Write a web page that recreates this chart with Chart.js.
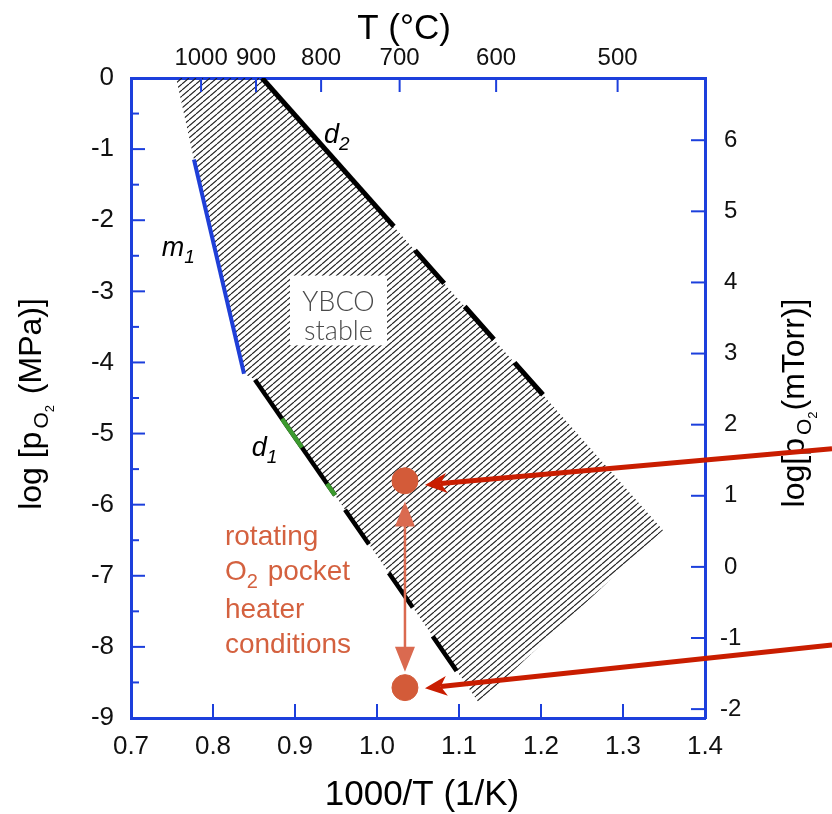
<!DOCTYPE html>
<html>
<head>
<meta charset="utf-8">
<script src="https://cdn.jsdelivr.net/npm/chart.js@4.4.1/dist/chart.umd.min.js"></script>
<style>
  html, body { margin: 0; padding: 0; background: #fff; }
  #wrap { width: 832px; height: 814px; }
</style>
</head>
<body>
<div id="wrap"><canvas id="phase" width="832" height="814"></canvas></div>
<script>
// ---- axis ticks ----
const X_TICKS     = [0.7, 0.8, 0.9, 1.0, 1.1, 1.2, 1.3, 1.4];
const Y_TICKS     = [0, -1, -2, -3, -4, -5, -6, -7, -8, -9];
const Y_MINOR     = [-0.5, -1.5, -2.5, -3.5, -4.5, -5.5, -6.5, -7.5, -8.5];
const T_TICKS     = [1000, 900, 800, 700, 600, 500];          // deg C on top axis
const MTORR_TICKS = [6, 5, 4, 3, 2, 1, 0, -1, -2];
const MPA_TO_MTORR = 6.875;                                   // log10(1 MPa in mTorr)

// ---- YBCO stability field (1000/T, log pO2 in MPa) ----
const FIELD_X = [0.755, 0.8598, 1.3488, 1.1244, 0.8512, 0.8378, 0.7768];
const FIELD_Y = [0, 0, -6.36, -8.79, -4.243, -4.158, -1.147];

// m1 boundary
const M1_X = [0.7768, 0.8378];
const M1_Y = [-1.147, -4.158];

// d2 boundary
const D2_SOLID_X = [0.8598, 1.0205];
const D2_SOLID_Y = [0, -2.087];
const D2_DASH_X  = [1.0463, 1.2024];
const D2_DASH_Y  = [-2.424, -4.454];

// d1 boundary (green pieces sit on top of the solid stretch)
const D1_SOLID_X  = [0.8512, 0.9488];
const D1_SOLID_Y  = [-4.243, -5.868];
const D1_GREEN_A_X = [0.8841, 0.9085];
const D1_GREEN_A_Y = [-4.791, -5.197];
const D1_GREEN_B_X = [0.939, 0.9488];
const D1_GREEN_B_Y = [-5.705, -5.868];
const D1_DASH_X   = [0.961, 1.0988];
const D1_DASH_Y   = [-6.071, -8.366];

// pocket heater operating points
const POCKET_X = [1.0341, 1.0341];
const POCKET_Y = [-5.664, -8.573];

// arrows: range arrow between the two points, callouts coming in from the right
const RANGE_X = [1.0341, 1.0341];
const RANGE_Y = [-5.955, -8.348];
const CALLOUT_FROM_X = [1.5549, 1.5549];
const CALLOUT_FROM_Y = [-5.214, -7.972];
const CALLOUT_TO_X   = [1.0585, 1.0585];
const CALLOUT_TO_Y   = [-5.723, -8.581];

const AXIS_BLUE = '#1c3fdc';
const NOTE_RED  = '#d4613f';
const DOT_RED   = '#d35b39';
const SANS = '"Liberation Sans", Arial, Helvetica, sans-serif';

const pts = (xs, ys) => xs.map((x, i) => ({ x, y: ys[i] }));

const canvas = document.getElementById('phase');

// diagonal hatch for the stability field
const hatch = (() => {
  const w = 7, h = 6;
  const tile = document.createElement('canvas');
  tile.width = w; tile.height = h;
  const g = tile.getContext('2d');
  g.strokeStyle = '#1e1e1e';
  g.lineWidth = 1.15;
  for (let k = -1; k <= 1; k++) {
    g.beginPath();
    g.moveTo(k * w, h);
    g.lineTo(k * w + w, 0);
    g.stroke();
  }
  return canvas.getContext('2d').createPattern(tile, 'repeat');
})();

// Chart.js paints higher `order` first, so lower numbers end up on top
function lineSet(xs, ys, color, width, dash, order) {
  return {
    data: pts(xs, ys),
    showLine: true,
    borderColor: color,
    borderWidth: width,
    borderDash: dash || [],
    borderCapStyle: 'butt',
    pointRadius: 0,
    fill: false,
    order: order,
  };
}

// ---- text helpers ----
function fontOf(p) {
  return `${p.italic ? 'italic ' : ''}${p.size}px ${p.family || SANS}`;
}
function drawRich(ctx, parts, x, y, align) {
  let w = 0;
  parts.forEach(p => { ctx.font = fontOf(p); w += ctx.measureText(p.t).width + (p.gap || 0); });
  let cx = align === 'center' ? x - w / 2 : x;
  parts.forEach(p => {
    ctx.font = fontOf(p);
    ctx.fillText(p.t, cx, y + (p.dy || 0));
    cx += ctx.measureText(p.t).width + (p.gap || 0);
  });
}

function arrowHead(ctx, x0, y0, x1, y1, len, half, notch) {
  const a = Math.atan2(y1 - y0, x1 - x0);
  ctx.save();
  ctx.translate(x1, y1);
  ctx.rotate(a);
  ctx.beginPath();
  ctx.moveTo(0, 0);
  ctx.lineTo(-len, -half);
  ctx.lineTo(-len * notch, 0);
  ctx.lineTo(-len, half);
  ctx.closePath();
  ctx.fill();
  ctx.restore();
}

const notes = {
  id: 'notes',
  afterDraw(chart) {
    const { ctx, chartArea: ca } = chart;
    const sx = chart.scales.x, sy = chart.scales.y, sy2 = chart.scales.y2;
    const px = v => sx.getPixelForValue(v);
    const py = v => sy.getPixelForValue(v);
    ctx.save();

    // inward tick marks
    ctx.strokeStyle = AXIS_BLUE;
    ctx.lineWidth = 2;
    const seg = (a, b, c, d) => { ctx.beginPath(); ctx.moveTo(a, b); ctx.lineTo(c, d); ctx.stroke(); };
    X_TICKS.slice(1, -1).forEach(v => seg(px(v), ca.bottom, px(v), ca.bottom - 14));
    T_TICKS.forEach(t => { const p = px(1000 / (t + 273.15)); seg(p, ca.top, p, ca.top + 14); });
    Y_TICKS.forEach(v => seg(ca.left, py(v), ca.left + 14, py(v)));
    Y_MINOR.forEach(v => seg(ca.left, py(v), ca.left + 8, py(v)));
    MTORR_TICKS.forEach(v => { const p = sy2.getPixelForValue(v); seg(ca.right, p, ca.right - 14, p); });

    // "YBCO stable" label on a white patch
    ctx.fillStyle = '#fff';
    ctx.fillRect(px(0.8939), py(-2.779), px(1.0122) - px(0.8939), py(-3.76) - py(-2.779));
    ctx.fillStyle = '#4a4a4a';
    ctx.textBaseline = 'alphabetic';
    ctx.textAlign = 'center';
    ctx.font = '300 27px Lato, "Open Sans", sans-serif';
    ctx.fillText('YBCO', px(0.953), py(-3.272));
    ctx.fillText('stable', px(0.953), py(-3.68));
    ctx.textAlign = 'left';

    // boundary names
    ctx.fillStyle = '#000';
    drawRich(ctx, [{ t: 'd', size: 27, italic: true }, { t: '2', size: 19, italic: true, dy: 7 }], px(0.9354), py(-0.912));
    drawRich(ctx, [{ t: 'm', size: 27, italic: true }, { t: '1', size: 19, italic: true, dy: 7 }], px(0.7374), py(-2.508));
    drawRich(ctx, [{ t: 'd', size: 27, italic: true }, { t: '1', size: 19, italic: true, dy: 7 }], px(0.8472), py(-5.322));

    // heater note
    ctx.fillStyle = NOTE_RED;
    const nx = px(0.8146);
    ctx.font = fontOf({ size: 28 });
    ctx.fillText('rotating', nx, py(-6.565));
    drawRich(ctx, [{ t: 'O', size: 28 }, { t: '2', size: 20, dy: 8, gap: 2 }, { t: ' pocket', size: 28 }], nx, py(-7.057));
    ctx.font = fontOf({ size: 28 });
    ctx.fillText('heater', nx, py(-7.592));
    ctx.fillText('conditions', nx, py(-8.085));

    // axis titles
    ctx.fillStyle = '#000';
    ctx.font = fontOf({ size: 35 });
    ctx.textAlign = 'center';
    ctx.fillText('T (\u00B0C)', 404, 39);
    ctx.fillText('1000/T (1/K)', 422, 805);
    ctx.textAlign = 'left';

    ctx.save();
    ctx.translate(41, 404);
    ctx.rotate(-Math.PI / 2);
    drawRich(ctx, [
      { t: 'log [p', size: 32, gap: 3 },
      { t: 'O', size: 21, dy: 7 },
      { t: '2', size: 13, dy: 13, gap: 2 },
      { t: ' (MPa)]', size: 32 },
    ], 0, 0, 'center');
    ctx.restore();

    ctx.save();
    ctx.translate(804, 403);
    ctx.rotate(-Math.PI / 2);
    drawRich(ctx, [
      { t: 'log[p', size: 32, gap: 3 },
      { t: 'O', size: 21, dy: 7 },
      { t: '2', size: 13, dy: 13, gap: 1 },
      { t: '(mTorr)]', size: 32 },
    ], 0, 0, 'center');
    ctx.restore();

    // range arrow between the two operating points
    ctx.strokeStyle = '#da6a50';
    ctx.fillStyle = '#da6a50';
    ctx.lineWidth = 2.5;
    const ax = px(RANGE_X[0]), ay0 = py(RANGE_Y[0]), ay1 = py(RANGE_Y[1]);
    seg(ax, ay0 + 20, ax, ay1 - 20);
    arrowHead(ctx, ax, ay1, ax, ay0, 25, 10, 1);
    arrowHead(ctx, ax, ay0, ax, ay1, 25, 10, 1);

    // callout arrows
    ctx.strokeStyle = '#c91d00';
    ctx.fillStyle = '#c91d00';
    ctx.lineWidth = 5;
    CALLOUT_FROM_X.forEach((fx, i) => {
      const x0 = px(fx), y0 = py(CALLOUT_FROM_Y[i]);
      const x1 = px(CALLOUT_TO_X[i]), y1 = py(CALLOUT_TO_Y[i]);
      const a = Math.atan2(y1 - y0, x1 - x0);
      seg(x0, y0, x1 - Math.cos(a) * 16, y1 - Math.sin(a) * 16);
      arrowHead(ctx, x0, y0, x1, y1, 22, 10, 0.72);
    });

    ctx.restore();
  }
};

function axisBase(extra) {
  return Object.assign({
    type: 'linear',
    grid: { display: true, drawOnChartArea: false, drawTicks: false },
    border: { display: true, color: AXIS_BLUE, width: 3 },
  }, extra);
}
const tickFont = { family: SANS, size: 26 };

new Chart(canvas, {
  type: 'scatter',
  data: {
    datasets: [
      {
        data: pts(FIELD_X, FIELD_Y),
        showLine: true,
        borderColor: 'rgba(0,0,0,0)',
        borderWidth: 0,
        backgroundColor: hatch,
        pointRadius: 0,
        fill: 'shape',
        order: 10,
      },
      lineSet(M1_X, M1_Y, '#1f3fd8', 4, null, 5),
      lineSet(D2_SOLID_X, D2_SOLID_Y, '#000', 5, null, 5),
      lineSet(D2_DASH_X, D2_DASH_Y, '#000', 5, [44, 31], 5),
      lineSet(D1_SOLID_X, D1_SOLID_Y, '#000', 4.5, null, 5),
      lineSet(D1_GREEN_A_X, D1_GREEN_A_Y, '#3c9a2e', 4.5, null, 3),
      lineSet(D1_GREEN_B_X, D1_GREEN_B_Y, '#3c9a2e', 4.5, null, 3),
      lineSet(D1_DASH_X, D1_DASH_Y, '#000', 4.5, [42, 35], 5),
      {
        data: pts(POCKET_X, POCKET_Y),
        showLine: false,
        backgroundColor: DOT_RED,
        borderColor: DOT_RED,
        pointRadius: 13,
        pointBackgroundColor: DOT_RED,
        pointBorderColor: DOT_RED,
        pointBorderWidth: 1,
        order: 1,
      },
    ],
  },
  options: {
    responsive: false,
    animation: false,
    devicePixelRatio: 1,
    layout: { padding: 0 },
    events: [],
    plugins: { legend: { display: false }, tooltip: { enabled: false } },
    scales: {
      x: axisBase({
        position: 'bottom', min: 0.7, max: 1.4,
        afterBuildTicks: s => { s.ticks = X_TICKS.map(v => ({ value: v })); },
        afterFit: s => { s.height = 96; },
        ticks: { font: tickFont, color: '#111', padding: 13, autoSkip: false, maxRotation: 0,
                 callback: v => v.toFixed(1) },
      }),
      x2: axisBase({
        position: 'top', min: 0.7, max: 1.4,
        afterBuildTicks: s => { s.ticks = T_TICKS.map(t => ({ value: 1000 / (t + 273.15) })); },
        afterFit: s => { s.height = 78; },
        ticks: { font: { family: SANS, size: 24 }, color: '#111', padding: 5, autoSkip: false, maxRotation: 0,
                 callback: v => String(Math.round(1000 / v - 273.15)) },
      }),
      y: axisBase({
        position: 'left', min: -9, max: 0,
        afterBuildTicks: s => { s.ticks = Y_TICKS.map(v => ({ value: v })); },
        afterFit: s => { s.width = 131; },
        ticks: { font: tickFont, color: '#111', padding: 17, autoSkip: false,
                 callback: v => String(v) },
      }),
      y2: axisBase({
        position: 'right', min: -9 + MPA_TO_MTORR, max: MPA_TO_MTORR,
        afterBuildTicks: s => { s.ticks = MTORR_TICKS.map(v => ({ value: v })); },
        afterFit: s => { s.width = 127; },
        ticks: { font: { family: SANS, size: 24 }, color: '#111', padding: 15, autoSkip: false, crossAlign: 'center',
                 callback: v => String(v) },
      }),
    },
  },
  plugins: [notes],
});
</script>
</body>
</html>
